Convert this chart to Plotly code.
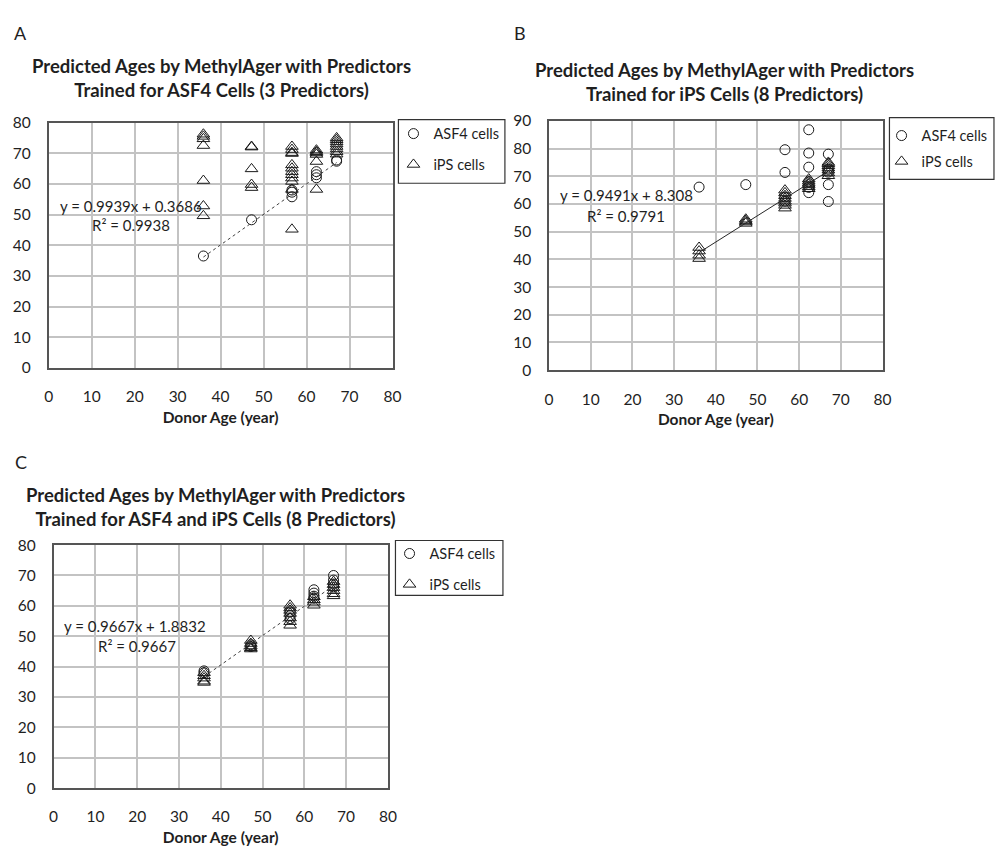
import plotly.graph_objects as go

W, H = 1001, 849

# ---------------- data ----------------
DONOR_AGES = [36, 47.2, 56.6, 62.3, 67]

A_ASF4_Y = [[36.5], [48.3], [55.8, 57.3, 58.0], [62.0, 63.0, 64.0], [67.4, 67.8]]
A_IPS_Y = [[76.2, 75.5, 74.7, 72.5, 61.1, 52.8, 49.6],
           [72.2, 72.0, 64.9, 59.8, 58.8],
           [72.2, 71.2, 70.2, 69.9, 66.2, 65.1, 64.0, 63.0, 61.9, 60.8, 58.2, 45.2],
           [71.0, 70.5, 70.1, 69.6, 67.3, 58.2],
           [75.0, 74.4, 73.7, 73.0, 72.2, 71.4, 70.5, 69.7]]
A_SLOPE, A_INTERCEPT, A_R2 = 0.9939, 0.3686, 0.9938

B_ASF4_Y = [[66.1], [67.0], [79.6, 71.4, 62.5, 61.0],
            [86.8, 78.4, 73.3, 68.0, 66.0, 64.1],
            [78.0, 72.5, 71.5, 67.0, 60.9]]
B_IPS_Y = [[44.3, 43.0, 41.5, 40.3],
           [54.5, 54.0, 53.5, 53.0],
           [65.0, 64.0, 63.0, 62.0, 61.0, 60.3, 59.5, 58.5],
           [69.0, 68.2, 67.5, 67.0, 66.2, 65.5],
           [75.0, 74.5, 73.8, 73.0, 72.2, 71.2, 70.2]]
B_SLOPE, B_INTERCEPT, B_R2 = 0.9491, 8.308, 0.9791

C_ASF4_Y = [[38.6, 38.0], [47.2, 46.6], [58.0, 56.8, 55.8],
            [65.3, 64.2, 63.2, 62.5], [70.0, 68.5, 67.2, 66.2]]
C_IPS_Y = [[38.0, 37.0, 36.2, 35.2, 34.8],
           [48.6, 47.6, 46.8, 46.2, 45.8],
           [60.2, 59.3, 58.5, 57.5, 56.0, 54.8, 53.6],
           [63.0, 62.0, 61.2, 60.2],
           [68.0, 67.0, 66.0, 65.0, 64.0, 63.3]]
C_SLOPE, C_INTERCEPT, C_R2 = 0.9667, 1.8832, 0.9667

TITLES = {
    "A": "Predicted Ages by MethylAger with Predictors<br>Trained for ASF4 Cells (3 Predictors)",
    "B": "Predicted Ages by MethylAger with Predictors<br>Trained for iPS Cells (8 Predictors)",
    "C": "Predicted Ages by MethylAger with Predictors<br>Trained for ASF4 and iPS Cells (8 Predictors)",
}
X_TITLE = "Donor Age (year)"
SERIES_NAMES = ["ASF4 cells", "iPS cells"]

# ---------------- styling ----------------
FONT = "Lato, 'Open Sans', sans-serif"
TXT = "#1f1f1f"
GRID = "#c3c3c3"
BORDER = "#555555"
MK = "#1a1a1a"


def px_x(p):
    return p / W


def px_y(p):
    return 1 - p / H


def flatten(ages, groups):
    xs, ys = [], []
    for a, g in zip(ages, groups):
        for v in g:
            xs.append(a)
            ys.append(v)
    return xs, ys


fig = go.Figure()

panels = [
    # key, xref, yref, legend, asf4, ips, slope, icpt, r2, dash,
    # plot box px (left, right, top, bottom), ymax, legend box px, legend pos px, gap
    ("A", "x", "y", "legend", A_ASF4_Y, A_IPS_Y, A_SLOPE, A_INTERCEPT, A_R2, "dot",
     (44.3, 393, 115, 365.7), 80, (399, 507, 112, 177), (394, 110), 9),
    ("B", "x2", "y2", "legend2", B_ASF4_Y, B_IPS_Y, B_SLOPE, B_INTERCEPT, B_R2, "solid",
     (551.7, 890, 113.3, 368), 90, (897, 1003, 110, 173), (889, 112), 4),
    ("C", "x3", "y3", "legend3", C_ASF4_Y, C_IPS_Y, C_SLOPE, C_INTERCEPT, C_R2, "dot",
     (49.3, 388.3, 546.7, 795), 80, (396, 505, 542, 598), (390, 539), 9),
]

shapes = []
annotations = []

for (key, xr, yr, lg, asf, ips, slope, icpt, r2, dash, box, ymax, lbox, lpos, gap) in panels:
    xa, ya = flatten(DONOR_AGES, asf)
    xb, yb = flatten(DONOR_AGES, ips)
    fig.add_trace(go.Scatter(
        x=xa, y=ya, mode="markers", name=SERIES_NAMES[0], xaxis=xr, yaxis=yr,
        legend=lg, legendgroup=key + "a",
        marker=dict(symbol="circle-open", size=10, color=MK, line=dict(width=1, color=MK)),
    ))
    fig.add_trace(go.Scatter(
        x=xb, y=yb, mode="markers", name=SERIES_NAMES[1], xaxis=xr, yaxis=yr,
        legend=lg, legendgroup=key + "b",
        marker=dict(symbol="triangle-up-open", size=11, color=MK, line=dict(width=1, color=MK)),
    ))
    lx = [min(DONOR_AGES), max(DONOR_AGES)]
    ly = [slope * v + icpt for v in lx]
    fig.add_trace(go.Scatter(
        x=lx, y=ly, mode="lines", xaxis=xr, yaxis=yr, showlegend=False,
        line=dict(color="#262626" if dash == "solid" else "#404040",
                  width=1, dash=dash),
        hoverinfo="skip",
    ))

    l, r, t, b = box
    sfx = "" if xr == "x" else xr[1:]
    fig.layout["xaxis" + sfx] = dict(
        domain=[px_x(l), px_x(r)], anchor=yr, range=[0, 80], dtick=10, tick0=0,
        showgrid=True, gridcolor=GRID, gridwidth=1.5, zeroline=False,
        showline=True, mirror=True, linecolor=BORDER, linewidth=1.5,
        ticks="", ticklabelstandoff=14,
        tickfont=dict(family=FONT, size=15.5, color=TXT),
        title=dict(text="<b>" + X_TITLE + "</b>", standoff=8,
                   font=dict(family=FONT, size=15.5, color=TXT)),
    )
    fig.layout["yaxis" + sfx] = dict(
        domain=[px_y(b), px_y(t)], anchor=xr, range=[0, ymax], dtick=10, tick0=0,
        showgrid=True, gridcolor=GRID, gridwidth=1.5, zeroline=False,
        showline=True, mirror=True, linecolor=BORDER, linewidth=1.5,
        ticks="", ticklabelstandoff=13,
        tickfont=dict(family=FONT, size=15.5, color=TXT),
    )

    # legend frame
    lx0, lx1, ly0, ly1 = lbox
    shapes.append(dict(type="rect", xref="paper", yref="paper",
                       x0=px_x(lx0), x1=px_x(lx1), y0=px_y(ly1), y1=px_y(ly0),
                       line=dict(color="#333333", width=1.2), fillcolor="rgba(0,0,0,0)"))
    fig.layout[lg] = dict(
        x=px_x(lpos[0]), y=px_y(lpos[1]), xanchor="left", yanchor="top",
        bgcolor="rgba(0,0,0,0)", borderwidth=0, itemsizing="trace",
        tracegroupgap=gap,
        font=dict(family=FONT, size=14.5, color=TXT),
    )

# titles and labels (pixel positions)
title_pos = {"A": (220, 69), "B": (730, 74), "C": (213, 508)}
letter_pos = {"A": (16, 23), "B": (522, 23), "C": (16, 462)}
eq_pos = {"A": ((128, 200), (128, 220)), "B": ((630, 189), (630, 210)),
          "C": ((132, 629), (134, 650))}
for (key, xr, yr, lg, asf, ips, slope, icpt, r2, dash, box, ymax, lbox, lpos, gap) in panels:
    tx, ty = title_pos[key]
    annotations.append(dict(
        x=px_x(tx), y=px_y(ty), xref="paper", yref="paper", showarrow=False,
        text="<b>" + TITLES[key] + "</b>", align="center",
        font=dict(family=FONT, size=18.5, color=TXT), xanchor="center", yanchor="middle"))
    lx_, ly_ = letter_pos[key]
    annotations.append(dict(
        x=px_x(lx_), y=px_y(ly_), xref="paper", yref="paper", showarrow=False,
        text=key, font=dict(family=FONT, size=18, color=TXT),
        xanchor="center", yanchor="middle"))
    (ex, ey), (rx, ry) = eq_pos[key]
    annotations.append(dict(
        x=px_x(ex), y=px_y(ey), xref="paper", yref="paper", showarrow=False,
        text=f"y = {slope}x + {icpt}", font=dict(family=FONT, size=15, color=TXT),
        xanchor="center", yanchor="middle"))
    annotations.append(dict(
        x=px_x(rx), y=px_y(ry), xref="paper", yref="paper", showarrow=False,
        text=f"R² = {r2}", font=dict(family=FONT, size=15, color=TXT),
        xanchor="center", yanchor="middle"))

fig.update_layout(
    width=W, height=H, margin=dict(l=0, r=0, t=0, b=0),
    paper_bgcolor="white", plot_bgcolor="white",
    shapes=shapes, annotations=annotations,
    font=dict(family=FONT, color=TXT), hovermode="closest",
)

fig.write_html("out.html", config={"displayModeBar": False},
               post_script="document.body.style.margin='0px';document.body.style.overflow='hidden';")
